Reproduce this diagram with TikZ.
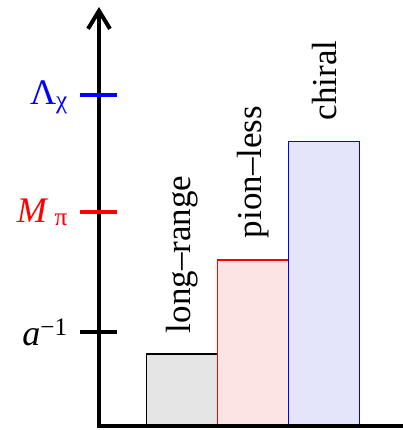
\documentclass[tikz,border=0pt]{standalone}
\usepackage{fontspec}
\setmainfont{Liberation Serif}
\usetikzlibrary{arrows.meta}
\definecolor{lrfill}{HTML}{E5E5E5}
\definecolor{plfill}{HTML}{FDE4E4}
\definecolor{chfill}{HTML}{E4E4FA}

\begin{document}
\begin{tikzpicture}[x=1pt, y=-1pt,
  axis/.style={line width=4pt},
  tick/.style={line width=4pt},
  scalelabel/.style={anchor=base east, inner sep=0pt, font=\fontsize{36}{40}\selectfont},
  bar/.style={rectangle, draw, line width=1.2pt, minimum width=71pt, inner sep=0pt,
              anchor=south west},
  barlabel/.style={rotate=90, anchor=west, inner sep=0pt, font=\fontsize{35}{40}\selectfont},
]
\useasboundingbox (0,0) rectangle (403,430);

% bars
\node[bar, fill=lrfill, draw=black, minimum height=71pt] (lr) at (146,425.5) {};
\node[bar, fill=plfill, draw=red, minimum height=165pt] (pl) at (217,425.5) {};
\node[bar, fill=chfill, draw=blue, minimum height=283pt] (ch) at (288,425.5) {};

\node[barlabel] (lrl) at ([yshift=20pt]lr.north) {long--range};
\node[barlabel] (pll) at ([yshift=21pt]pl.north) {pion--less};
\node[barlabel] (chl) at ([yshift=21pt]ch.north) {chiral};

% axes
\draw[axis, {Straight Barb[length=18pt, width=22pt]}-] (99,7) -- (99,425.5) -- (403,425.5);

% scales
\draw[tick, blue] (80,95) -- (117,95);
\draw[tick, red] (80,212) -- (117,212);
\draw[tick] (80,332) -- (117,332);

\node[scalelabel, text=blue] (lam) at (68,105) {Λ\textsubscript{χ}};
\node[scalelabel, text=red] (mpi) at (68,222) {\textit{M}\,\textsubscript{π}};
\node[scalelabel] (ainv) at (68,345) {\textit{a}\textsuperscript{−1}};

\end{tikzpicture}
\end{document}
